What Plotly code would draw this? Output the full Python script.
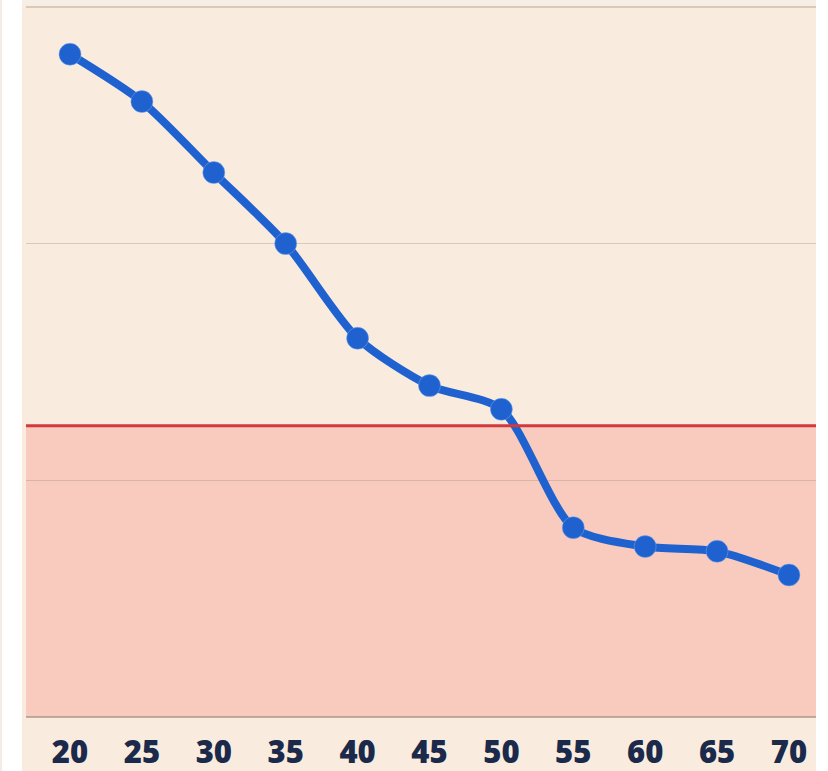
import plotly.graph_objects as go

ages = [20, 25, 30, 35, 40, 45, 50, 55, 60, 65, 70]
values = [28, 26, 23, 20, 16, 14, 13, 8, 7.2, 7, 6]
threshold = 12.3
tick_labels = ["20", "25", "30", "35", "40", "45", "50", "55", "60", "65", "70"]

W, H = 828, 777
L, R, T, B = 26, 12, 5, 56
pw = W - L - R
ph = H - T - B

cream = "#f9ecdf"
pink = "#f9cabe"
blue = "#1f62cf"

fig = go.Figure()
fig.add_trace(go.Scatter(
    x=ages, y=values, mode="lines+markers",
    line=dict(color=blue, width=8, shape="spline", smoothing=0.75),
    marker=dict(size=22, color=blue, line=dict(color="rgba(120,170,240,0.5)", width=1)),
    hoverinfo="skip",
))

shapes = [
    # pink zone below threshold
    dict(type="rect", xref="paper", yref="y", x0=0, x1=1, y0=0, y1=threshold,
         fillcolor=pink, line=dict(width=0), layer="below"),
    # threshold line
    dict(type="line", xref="paper", yref="y", x0=0, x1=1, y0=threshold, y1=threshold,
         line=dict(color="#d3383c", width=3), layer="above"),
    # white strip on the left
    dict(type="rect", xref="paper", yref="paper", x0=-L / pw, x1=(22 - L) / pw,
         y0=-B / ph, y1=1 + T / ph,
         fillcolor="#ffffff", line=dict(width=0), layer="below"),
    dict(type="rect", xref="paper", yref="paper", x0=-L / pw, x1=(2 - L) / pw,
         y0=-B / ph, y1=1 + T / ph,
         fillcolor="#f1ece4", line=dict(width=0), layer="below"),
    # white strip on the right
    dict(type="rect", xref="paper", yref="paper", x0=1, x1=1 + R / pw,
         y0=-B / ph, y1=1 + T / ph,
         fillcolor="#ffffff", line=dict(width=0), layer="below"),
    # top strip
    dict(type="rect", xref="paper", yref="paper", x0=(22 - L) / pw, x1=1,
         y0=1, y1=1 + T / ph,
         fillcolor="#f6efe6", line=dict(width=0), layer="below"),
]

fig.update_layout(
    width=W, height=H,
    margin=dict(l=L, r=R, t=T, b=B),
    paper_bgcolor=cream, plot_bgcolor=cream,
    showlegend=False,
    shapes=shapes,
    xaxis=dict(
        range=[16.94, 71.88], tickvals=ages, ticktext=tick_labels,
        showgrid=False, zeroline=False, showline=False,
        ticks="outside", ticklen=8, tickcolor="rgba(0,0,0,0)",
        tickfont=dict(family="Open Sans", size=31, color="#1b2a4a", weight=800),
    ),
    yaxis=dict(
        range=[0, 30.08], tickvals=[0, 10, 20, 30], showticklabels=False,
        showgrid=True, gridcolor="rgba(170,150,125,0.4)", gridwidth=1.5,
        zeroline=True, zerolinecolor="rgba(150,135,115,0.6)", zerolinewidth=2,
        showline=False,
    ),
)

fig.write_html(
    "out.html",
    config={"displayModeBar": False, "staticPlot": True},
    post_script=(
        "var d=document.documentElement,b=document.body;"
        "d.style.margin='0';b.style.margin='0';d.style.padding='0';b.style.padding='0';"
        "d.style.overflow='hidden';b.style.overflow='hidden';"
        "d.style.background='#f9ecdf';b.style.background='#f9ecdf';"
        "var g=document.getElementById('{plot_id}');"
        "g.style.position='fixed';g.style.left='0';g.style.top='0';"
    ),
)
